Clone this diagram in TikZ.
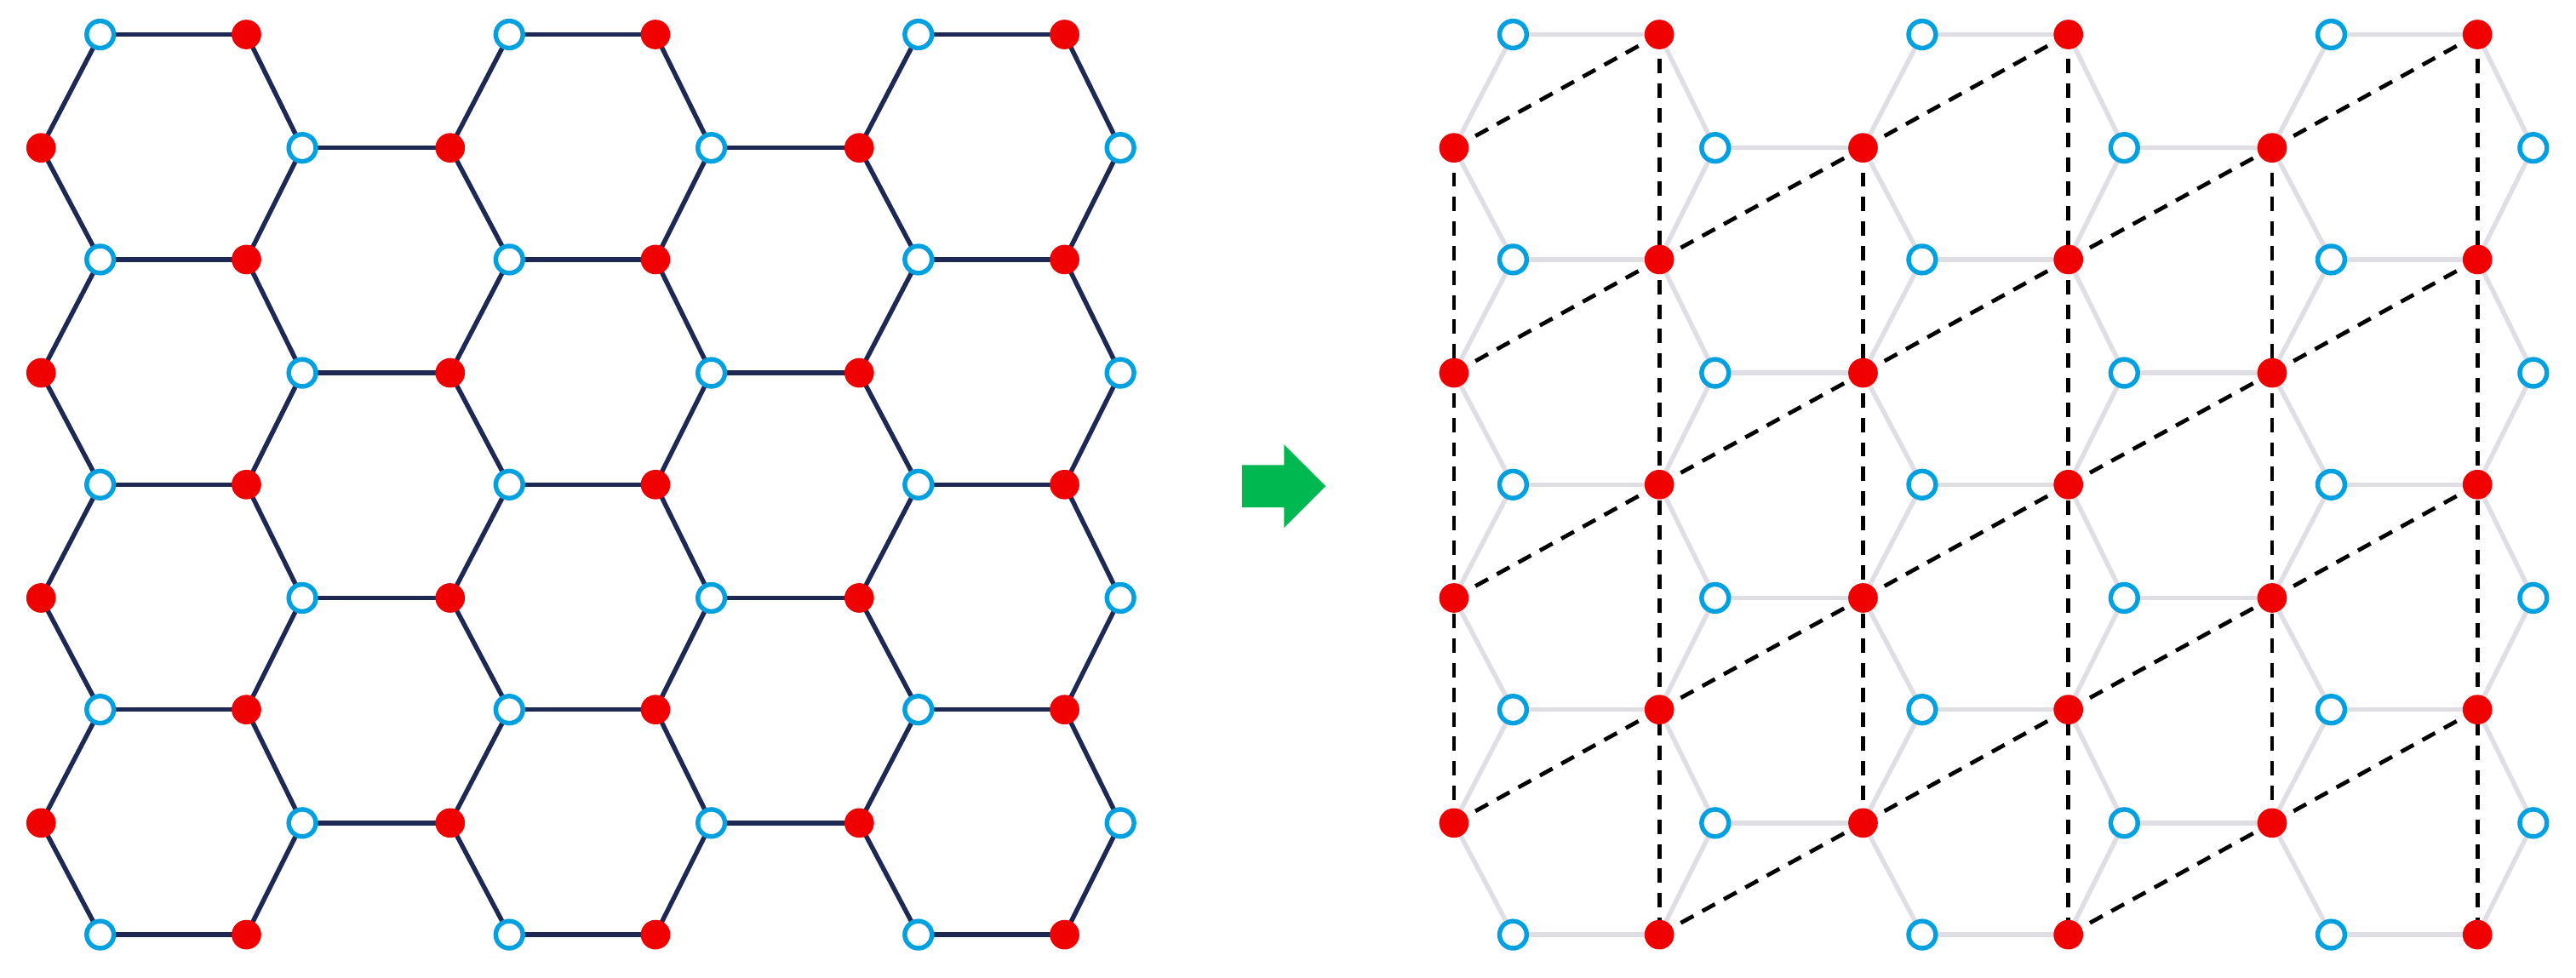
\documentclass[tikz,border=0pt]{standalone}
\usetikzlibrary{shapes.arrows,backgrounds}
\definecolor{navy}{RGB}{30,40,85}
\definecolor{ringblue}{RGB}{0,160,225}
\definecolor{dotred}{RGB}{240,0,0}
\definecolor{paleline}{RGB}{222,222,228}
\definecolor{arrowgreen}{RGB}{0,184,80}
\tikzset{
  reddot/.style={circle,fill=dotred,inner sep=0pt,minimum size=0.36cm},
  bluering/.style={circle,draw=ringblue,fill=white,line width=1.6pt,inner sep=0pt,minimum size=0.33cm},
  bond/.style={line width=1.6pt},
  cell/.style={black,line width=1.4pt,dash pattern=on 5pt off 3.5pt}
}
\begin{document}
\begin{tikzpicture}[x=0.02cm,y=-0.02cm]
\useasboundingbox (0,0) rectangle (1568,595);
\foreach \p/\dx/\col in {L/0/navy,R/860/paleline}{
  % atoms
  \foreach \i in {0,1,2}{
    \foreach \k in {0,...,4}{
      \node[bluering] (\p-ab-\k-\i) at (61+249*\i+\dx,21+137*\k) {};
      \node[reddot] (\p-ar-\k-\i) at (150+249*\i+\dx,21+137*\k) {};
    }
    \foreach \k in {0,...,3}{
      \node[reddot] (\p-br-\k-\i) at (25+249*\i+\dx,90+137*\k) {};
      \node[bluering] (\p-bb-\k-\i) at (184+249*\i+\dx,90+137*\k) {};
    }
  }
  % bonds
  \begin{scope}[on background layer]
  \foreach \i in {0,1,2}{
    \foreach \k/\n in {0/1,1/2,2/3,3/4}{
      \draw[bond,\col] (\p-ab-\k-\i.center) -- (\p-br-\k-\i.center) -- (\p-ab-\n-\i.center);
      \draw[bond,\col] (\p-ar-\k-\i.center) -- (\p-bb-\k-\i.center) -- (\p-ar-\n-\i.center);
    }
    \foreach \k in {0,...,4}
      \draw[bond,\col] (\p-ab-\k-\i.center) -- (\p-ar-\k-\i.center);
  }
  \foreach \i/\j in {0/1,1/2}
    \foreach \k in {0,...,3}
      \draw[bond,\col] (\p-bb-\k-\i.center) -- (\p-br-\k-\j.center);
  \end{scope}
}
% unit cells
\begin{scope}[on background layer]
\foreach \i in {0,1,2}{
  \draw[cell] (R-br-0-\i.center) -- (R-br-3-\i.center);
  \draw[cell] (R-ar-0-\i.center) -- (R-ar-4-\i.center);
  \foreach \k in {0,...,3}
    \draw[cell] (R-br-\k-\i.center) -- (R-ar-\k-\i.center);
}
\foreach \i/\j in {0/1,1/2}
  \foreach \k/\m in {1/0,2/1,3/2,4/3}
    \draw[cell] (R-ar-\k-\i.center) -- (R-br-\m-\j.center);
\end{scope}
\node[single arrow,fill=arrowgreen,minimum height=1.02cm,minimum width=1cm,
  inner xsep=0pt,inner ysep=0.25cm,single arrow head extend=0.25cm] (step) at (775,296) {};
\end{tikzpicture}
\end{document}
